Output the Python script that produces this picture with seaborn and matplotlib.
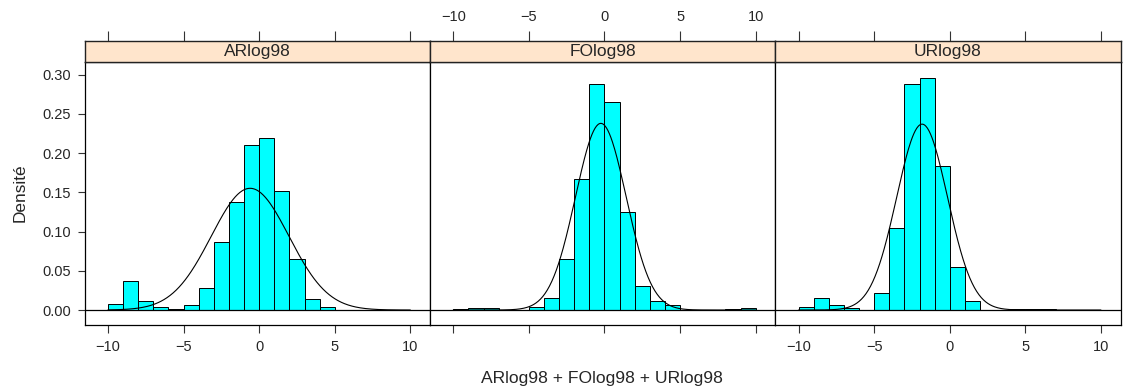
import numpy as np
import pandas as pd
import matplotlib
matplotlib.use("Agg")
import matplotlib.pyplot as plt
import seaborn as sns

# ---- data ----
panels = ["ARlog98", "FOlog98", "URlog98"]
bin_left = list(range(-10, 10))            # unit-width bins from -10 to 10
ar_density = [0.0072, 0.0366, 0.0115, 0.0034, 0.0013, 0.0068, 0.0285, 0.087, 0.138, 0.211,
              0.219, 0.152, 0.065, 0.0145, 0.0043, 0, 0, 0, 0, 0]
fo_density = [0.0017, 0.003, 0.002, 0, 0, 0.0034, 0.0157, 0.0647, 0.167, 0.2885,
              0.2655, 0.1255, 0.031, 0.0115, 0.006, 0, 0, 0, 0.001, 0.002]
ur_density = [0.0034, 0.0153, 0.006, 0.002, 0, 0.0213, 0.104, 0.288, 0.2957, 0.184,
              0.0545, 0.0115, 0, 0, 0.001, 0.0015, 0.0008, 0, 0, 0]
norm_mean = [-0.6, -0.24, -1.83]
norm_sd = [2.57, 1.676, 1.683]
x_ticks = [-10, -5, 0, 5, 10]
y_ticks = [0.00, 0.05, 0.10, 0.15, 0.20, 0.25, 0.30]

sns.set_theme(style="ticks")
plt.rcParams["font.family"] = ["Liberation Sans", "DejaVu Sans"]
plt.rcParams["axes.linewidth"] = 0.9

W, H = 1123, 392
fig = plt.figure(figsize=(W / 100, H / 100), dpi=100)

def fx(px):
    return px / W

def fy(py):
    return 1 - py / H

panel_w = 345.3
lefts = [84.7, 430.0, 775.3]
p_top, p_bot = 62, 325
s_top = 41

densities = [ar_density, fo_density, ur_density]
centers = np.array(bin_left, dtype=float) + 0.5
xlim = (-11.54, 11.3)
ylim = (-0.0191, 0.3163)

for i, name in enumerate(panels):
    ax = fig.add_axes([fx(lefts[i]), fy(p_bot), fx(panel_w), (p_bot - p_top) / H])
    df = pd.DataFrame({"x": centers, "w": densities[i]})
    sns.histplot(data=df, x="x", weights="w", binwidth=1, binrange=(bin_left[0], bin_left[-1] + 1),
                 stat="count", ax=ax,
                 color="#00FFFF", edgecolor="black", linewidth=0.7, alpha=1.0)
    xs = np.linspace(-10, 10, 400)
    ys = np.exp(-0.5 * ((xs - norm_mean[i]) / norm_sd[i]) ** 2) / (norm_sd[i] * np.sqrt(2 * np.pi))
    sns.lineplot(x=xs, y=ys, ax=ax, color="black", linewidth=0.8)
    ax.axhline(0, color="black", linewidth=0.9, zorder=5)
    ax.set_xlim(*xlim)
    ax.set_ylim(*ylim)
    ax.set_xlabel("")
    ax.set_ylabel("")
    for sp in ax.spines.values():
        sp.set_visible(True)
        sp.set_color("black")
        sp.set_linewidth(0.9)
    ax.set_xticks(x_ticks)
    ax.tick_params(axis="x", direction="out", length=5.5, width=0.8, color="#333333",
                   labelsize=10.5, pad=5, labelbottom=(i != 1), top=False)
    ax.set_xticklabels(["\u221210", "\u22125", "0", "5", "10"])
    if i == 0:
        ax.set_yticks(y_ticks)
        ax.set_yticklabels([f"{v:.2f}" for v in y_ticks])
        ax.tick_params(axis="y", direction="out", length=5, width=0.8, color="#333333",
                       labelsize=10.5, pad=5)
    else:
        ax.set_yticks([])
    if ax.get_legend():
        ax.get_legend().remove()

    # strip
    sx = fig.add_axes([fx(lefts[i]), fy(p_top), fx(panel_w), (p_top - s_top) / H])
    sx.set_facecolor("#FFE5CC")
    sx.set_xlim(*xlim)
    sx.set_ylim(0, 1)
    sx.set_yticks([])
    sx.set_xticks(x_ticks)
    sx.xaxis.tick_top()
    sx.tick_params(axis="x", direction="out", length=7, width=0.8, color="#333333",
                   labelsize=10.5, pad=5, labeltop=(i == 1), bottom=False, labelbottom=False)
    sx.set_xticklabels(["\u221210", "\u22125", "0", "5", "10"])
    for sp in sx.spines.values():
        sp.set_visible(True)
        sp.set_color("#222222")
        sp.set_linewidth(1.0)
    sx.text(0.5, 0.5, name, transform=sx.transAxes, ha="center", va="center", fontsize=12.5)

fig.text(fx(602), fy(378), "ARlog98 + FOlog98 + URlog98", ha="center", va="center", fontsize=12.6)
fig.text(fx(20), fy(193), "Densit\u00e9", ha="center", va="center", rotation=90, fontsize=12.4)

fig.savefig("out.png", dpi=100)
